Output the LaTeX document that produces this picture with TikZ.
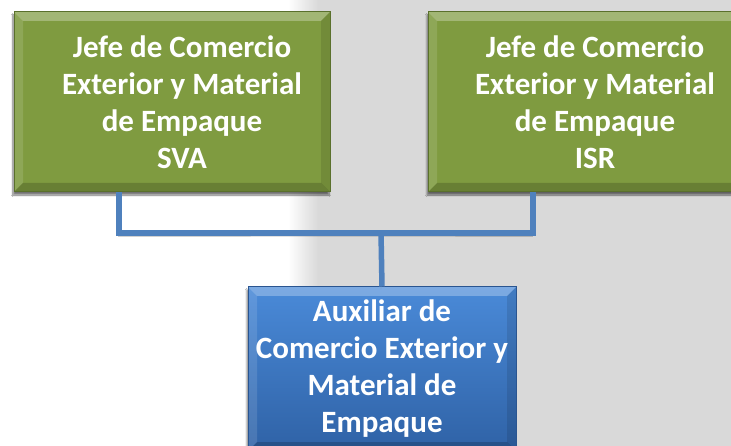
\documentclass[tikz,border=0pt]{standalone}
\usepackage{fontspec}
\setmainfont{Carlito}
\usetikzlibrary{shadows.blur}
\definecolor{jefegreen}{HTML}{7F9B40}
\definecolor{jefeborder}{HTML}{5A702C}
\definecolor{auxtop}{HTML}{4A8AD8}
\definecolor{auxbottom}{HTML}{2F62A6}
\definecolor{auxborder}{HTML}{2A5590}
\definecolor{linkblue}{HTML}{4F81BD}
\definecolor{bggray}{HTML}{D9D9D9}
\tikzset{
  bevel/.style={path picture={
    \fill[white,opacity=0.28] (path picture bounding box.north west) -- (path picture bounding box.north east)
      -- ([shift={(-9pt,-9pt)}]path picture bounding box.north east) -- ([shift={(9pt,-9pt)}]path picture bounding box.north west) -- cycle;
    \fill[white,opacity=0.12] (path picture bounding box.north west) -- ([shift={(9pt,-9pt)}]path picture bounding box.north west)
      -- ([shift={(9pt,9pt)}]path picture bounding box.south west) -- (path picture bounding box.south west) -- cycle;
    \fill[black,opacity=0.10] (path picture bounding box.north east) -- ([shift={(-9pt,-9pt)}]path picture bounding box.north east)
      -- ([shift={(-9pt,9pt)}]path picture bounding box.south east) -- (path picture bounding box.south east) -- cycle;
    \fill[black,opacity=0.18] (path picture bounding box.south west) -- (path picture bounding box.south east)
      -- ([shift={(-9pt,9pt)}]path picture bounding box.south east) -- ([shift={(9pt,9pt)}]path picture bounding box.south west) -- cycle;
  }},
  box/.style={draw, line width=1pt, inner sep=0pt, bevel,
    blur shadow={shadow xshift=-1pt, shadow yshift=-3pt, shadow blur steps=8, shadow opacity=55}},
  jefe/.style={box, fill=jefegreen, draw=jefeborder, minimum width=316pt, minimum height=180pt},
  aux/.style={box, top color=auxtop, bottom color=auxbottom, draw=auxborder, minimum width=268pt, minimum height=164pt},
  boxtext/.style={text=white, font=\fontsize{31}{37}\selectfont\bfseries, align=center},
  link/.style={draw=linkblue, line width=5.5pt,
    preaction={draw=black, opacity=0.18, transform canvas={shift={(-1pt,-3pt)}}}}
}
\begin{document}
\begin{tikzpicture}[x=1pt,y=-1pt]
  % background
  \fill[white] (0,0) rectangle (731,446);
  \fill[bggray] (318,0) rectangle (731,446);
  \shade[left color=white, right color=bggray] (288,0) rectangle (318,446);
  \useasboundingbox (0,0) rectangle (731,446);

  \node[jefe, label={[boxtext, xshift=10pt]center:{Jefe de Comercio\\Exterior y Material\\de Empaque\\SVA}}] (sva) at (172,102) {};
  \node[jefe, label={[boxtext, xshift=9pt]center:{Jefe de Comercio\\Exterior y Material\\de Empaque\\ISR}}] (isr) at (586,102) {};
  \node[aux, boxtext] (aux) at (382,369) {Auxiliar de\\Comercio Exterior y\\Material de\\Empaque};

  \coordinate (bus) at (381,233);
  \draw[link] ([xshift=-53pt]sva.south) |- (bus) -| ([xshift=-53pt]isr.south);
  \draw[link] (bus) -- (aux.north);
\end{tikzpicture}
\end{document}
